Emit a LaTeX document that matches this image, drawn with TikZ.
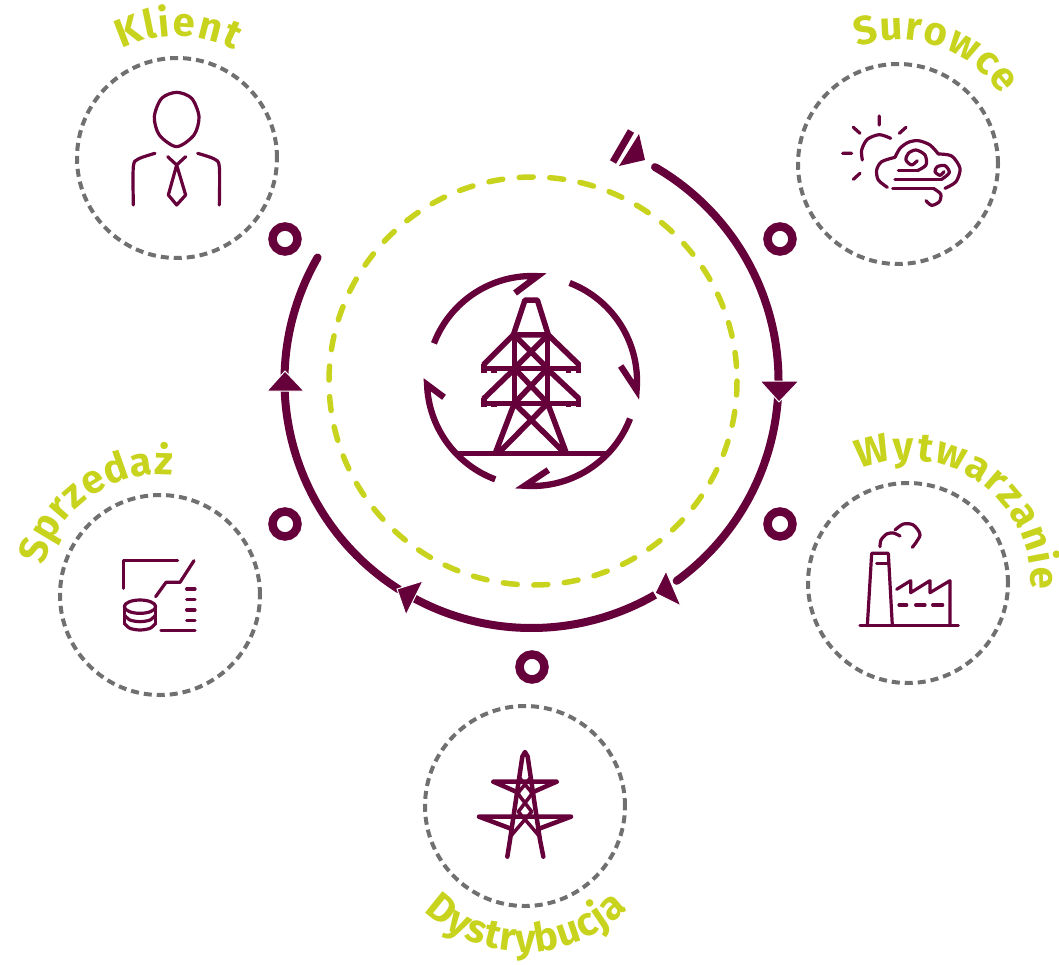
\documentclass[tikz,border=0pt]{standalone}
\usepackage{fontspec}
\setmainfont{Fira Sans}
\usetikzlibrary{decorations.text}
\definecolor{wine}{HTML}{66003A}
\definecolor{lime}{HTML}{C8D31E}
\definecolor{ash}{HTML}{707070}
\newcommand{\parc}[5]{({#1+#3*cos(#4)},{#2-#3*sin(#4)}) arc[start angle=#4,end angle=#5,radius=#3pt]}
\newcommand{\curvelabel}[6]{\path[decorate,decoration={text along path,text align={fit to path},text color=lime,text={|\fontsize{40}{40}\selectfont\bfseries|#6}}] \parc{#1}{#2}{#3}{#4}{#5};}
\tikzset{
 stage/.style={circle,draw=ash,line width=4pt,dash pattern=on 8pt off 5pt,minimum size=200pt,inner sep=0pt},
 ring/.style={circle,draw=wine,line width=8.5pt,minimum size=25pt,inner sep=0pt},
 main/.style={draw=wine,line width=8pt},
 head/.style={fill=wine,draw=white,line width=1pt,line join=round},
 icon/.style={draw=wine,line width=3.2pt,line cap=round,line join=round},
 zoomed/.style={shift={#1},x=0.3333pt,y=-0.3333pt},
 mast/.style={draw=wine,line width=5.5pt},
 cyclearc/.style={draw=wine,line width=6.3pt,miter limit=10}
}
\begin{document}
\begin{tikzpicture}[x=1pt,y=-1pt]
\useasboundingbox (0,0) rectangle (1059,964);
% stages
\node[stage] (klient) at (177,158) {};
\node[stage] (surowce) at (898,164) {};
\node[stage] (wytw) at (908,583) {};
\node[stage] (sprzedaz) at (160,595) {};
\node[stage] (dystr) at (525,806) {};
% labels
\curvelabel{177}{158}{122}{117}{62}{Klient}
\curvelabel{898}{164}{124}{109}{34}{Surowce}
\curvelabel{908}{583}{123}{113}{-3}{Wytwarzanie}
\curvelabel{160}{595}{120}{166}{84}{Sprzedaż}
\curvelabel{525}{806}{146}{-134}{-45}{Dystrybucja}
% rings
\node[ring] (r1) at (285,239) {};
\node[ring] (r2) at (780,239) {};
\node[ring] (r3) at (780,524) {};
\node[ring] (r4) at (285,524) {};
\node[ring] (r5) at (532,667) {};
% dashed inner circle
\draw[lime,line width=5.5pt,line cap=round,dash pattern=on 14pt off 16.57pt,dash phase=16pt] (533,381) circle[radius=204pt];
% main arcs
\draw[main,line cap=round] \parc{531.5}{381}{247}{60}{-54};
\draw[main] \parc{531.5}{381}{247}{-60}{-118.3};
\draw[main,line cap=round] \parc{531.5}{381}{247}{-122.5}{-210};
% heads
\fill[head] (760,381) -- (799,381) -- (779,402) -- cycle;
\fill[head] (666,571) -- (681,606) -- (655,593) -- cycle;
\fill[head] (423,581) -- (397,589) -- (406,615) -- cycle;
\fill[head] (285,371) -- (267,391) -- (304,391) -- cycle;
\fill[wine] (639,134) -- (645,160) -- (619,166) -- cycle;
\draw[wine,line width=7pt] (613,162) -- (631,131);
% central recycling arcs
\draw[cyclearc] \parc{532}{381}{105}{159}{87} -- (515,293);
\draw[cyclearc] \parc{532}{381}{105}{69}{-5} -- (620.7,366);
\draw[cyclearc] \parc{532}{381}{105}{-21}{-94} -- (548.3,470);
\draw[cyclearc] \parc{532}{381}{105}{-110.5}{-178} -- (444,397.3);
% central tower
\begin{scope}[zoomed={(420,260)}]
\draw[mast] (110,580) -- (558,580);
\draw[mast,line join=round] (280,225) -- (315,120) -- (352,120) -- (385,225) -- cycle;
\draw[mast] (283,225) -- (283,430) (383,225) -- (383,430);
\draw[mast] (186,325) -- (482,325) (186,430) -- (482,430);
\draw[mast] (280,225) -- (190,315) (385,225) -- (478,315) (280,330) -- (190,417) (385,330) -- (478,417);
\draw[mast] (283,225) -- (383,325) (383,225) -- (283,325) (283,325) -- (383,430) (383,325) -- (283,430);
\draw[mast] (283,430) -- (225,582) (383,430) -- (440,582) (283,430) -- (435,580) (383,430) -- (235,580);
\draw[mast] (192,312) -- (192,338) (222,325) -- (222,338) (445,325) -- (445,338) (475,312) -- (475,338);
\draw[mast] (192,414) -- (192,440) (222,427) -- (222,440) (445,427) -- (445,440) (475,414) -- (475,440);
\end{scope}
% sun and cloud
\begin{scope}[zoomed={(830,100)}]
\draw[icon] (148,48) -- (148,75) (70,82) -- (90,100) (228,82) -- (208,100) (38,160) -- (65,160) (70,238) -- (90,220);
\draw[icon] plot[smooth] coordinates {(97,180) (95,150) (112,118) (148,104) (182,115)};
\draw[icon] plot[smooth] coordinates {(172,262) (145,240) (140,210) (155,185) (195,172)};
\draw[icon] plot[smooth] coordinates {(195,172) (210,145) (235,127) (265,122) (300,135) (325,162)};
\draw[icon] plot[smooth] coordinates {(325,162) (365,168) (390,205) (378,245) (345,265)};
\draw[icon] (205,212) -- (262,212);
\draw[icon] plot[smooth] coordinates {(262,212) (288,195) (285,165) (258,150) (235,160) (228,180) (245,195) (262,182)};
\draw[icon] (195,238) -- (335,238);
\draw[icon] plot[smooth] coordinates {(335,238) (358,218) (345,197) (322,200) (315,215) (330,226) (342,215)};
\draw[icon] (188,265) -- (310,265);
\draw[icon] plot[smooth] coordinates {(310,265) (332,282) (328,305) (305,316) (288,302)};
\end{scope}
% factory
\begin{scope}[zoomed={(850,510)}]
\draw[icon] (52,347) -- (65,130) -- (115,130) -- (127,347);
\draw[icon] (80,160) -- (113,160);
\draw[icon] (30,347) -- (325,347);
\draw[icon] (300,347) -- (300,212) -- (240,248) -- (240,212) -- (182,248) -- (182,212) -- (140,238);
\draw[icon] (147,285) -- (170,285) (197,285) -- (225,285) (248,285) -- (278,285);
\draw[icon] plot[smooth] coordinates {(90,110) (93,90) (110,72) (130,69) (150,78)};
\draw[icon] plot[smooth] coordinates {(135,60) (160,42) (190,45) (210,75) (187,112)};
\end{scope}
% sales
\begin{scope}[zoomed={(110,550)}]
\draw[icon] (40,115) -- (40,32) -- (203,32);
\draw[icon] (137,140) -- (168,97) -- (210,97) -- (252,32);
\draw[icon] (230,117) -- (255,117) (230,148) -- (255,148) (230,180) -- (255,180) (230,211) -- (255,211);
\draw[icon] (153,242) -- (255,242);
\draw[icon] (90,170) ellipse[x radius=47,y radius=20];
\draw[icon] (43,170) -- (43,220) (137,170) -- (137,220);
\draw[icon] plot[smooth] coordinates {(43,195) (60,210) (90,215) (120,210) (137,195)};
\draw[icon] plot[smooth] coordinates {(43,220) (60,235) (90,240) (120,235) (137,220)};
\end{scope}
% distribution tower
\begin{scope}[zoomed={(465,740)},line width=4.5pt,line cap=round,line join=round]
\draw[wine] (127,350) -- (135,300) -- (172,50) -- (180,36) -- (188,50) -- (225,300) -- (235,350);
\draw[wine] (85,125) -- (275,125) (85,125) -- (160,158) (275,125) -- (200,158);
\draw[wine] (42,230) -- (318,230) (42,230) -- (135,265) (318,230) -- (225,265);
\draw[wine,line width=3.5pt] (165,115) -- (202,160) -- (160,215) -- (220,285) (195,115) -- (158,160) -- (200,215) -- (140,285);
\end{scope}
% person
\begin{scope}[zoomed={(120,85)}]
\draw[icon] plot[smooth cycle] coordinates {(170,22) (215,40) (237,95) (222,150) (170,185) (118,150) (103,95) (125,40)};
\draw[icon] plot[smooth] coordinates {(40,360) (40,245) (55,222) (105,205)};
\draw[icon] plot[smooth] coordinates {(298,360) (298,245) (283,222) (233,205)};
\draw[icon] (143,215) -- (170,240) -- (197,215);
\draw[icon] (170,240) -- (145,330) -- (170,360) -- (197,330) -- cycle;
\end{scope}
\end{tikzpicture}
\end{document}
